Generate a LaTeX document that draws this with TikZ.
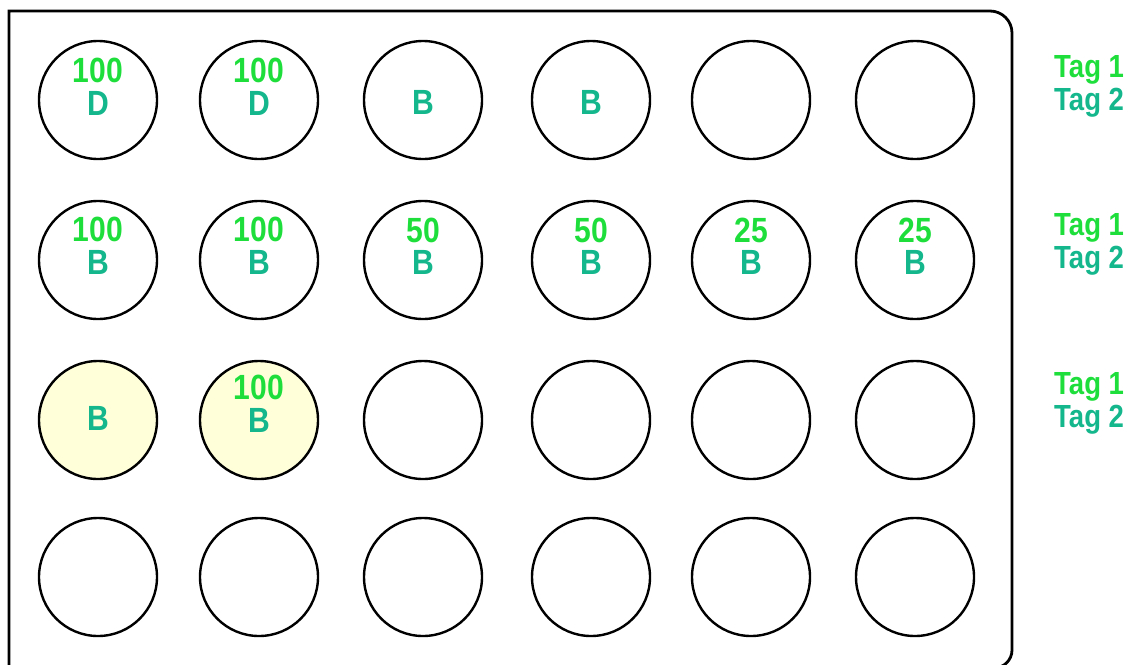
\documentclass[tikz,border=0pt]{standalone}
\usepackage{fontspec}
\setmainfont{Liberation Sans}
\begin{document}
\begin{tikzpicture}[x=1pt,y=-1pt,
  well/.style={circle,draw=black,line width=2.4pt,minimum size=118pt,inner sep=0pt},
  lit/.style={well,fill=wellyellow},
  numtxt/.style={text=taggreen,font=\fontsize{35}{35}\selectfont\bfseries,xscale=0.86,inner sep=0pt},
  lettxt/.style={text=tagteal,font=\fontsize{35}{35}\selectfont\bfseries,xscale=0.86,inner sep=0pt},
  tagone/.style={text=taggreen,font=\fontsize{32}{32}\selectfont\bfseries,xscale=0.86,inner sep=0pt,anchor=west},
  tagtwo/.style={text=tagteal,font=\fontsize{32}{32}\selectfont\bfseries,xscale=0.86,inner sep=0pt,anchor=west}]
\definecolor{taggreen}{RGB}{30,222,60}
\definecolor{tagteal}{RGB}{20,182,140}
\definecolor{wellyellow}{RGB}{255,255,218}
\useasboundingbox (0,0) rectangle (1142,664);
\clip (0,0) rectangle (1142,664);
% plate
\draw[line width=2.8pt] (9,690) -- (9,11) -- (990,11) arc[start angle=-90,end angle=0,radius=22] -- (1012,650) arc[start angle=0,end angle=90,radius=18] -- (985,668);
% wells
\foreach \r/\y in {1/100,2/260,3/420,4/577}{
  \foreach \c/\x in {1/98,2/259,3/423,4/591,5/751,6/915}{
    \ifnum\r=3 \ifnum\c<3
      \node[lit] (w\r\c) at (\x,\y) {};
    \else
      \node[well] (w\r\c) at (\x,\y) {};
    \fi\else
      \node[well] (w\r\c) at (\x,\y) {};
    \fi
  }
}
% labels row 1
\node[numtxt] (n11) at (98,70) {100};
\node[lettxt] (l11) at (98,103) {D};
\node[numtxt] (n12) at (259,70) {100};
\node[lettxt] (l12) at (259,103) {D};
\node[lettxt] (l13) at (423,102) {B};
\node[lettxt] (l14) at (591,102) {B};
% row 2
\node[numtxt] (n21) at (98,229) {100};
\node[lettxt] (l21) at (98,262) {B};
\node[numtxt] (n22) at (259,229) {100};
\node[lettxt] (l22) at (259,262) {B};
\node[numtxt] (n23) at (423,230) {50};
\node[lettxt] (l23) at (423,262) {B};
\node[numtxt] (n24) at (591,230) {50};
\node[lettxt] (l24) at (591,262) {B};
\node[numtxt] (n25) at (751,230) {25};
\node[lettxt] (l25) at (751,262) {B};
\node[numtxt] (n26) at (915,230) {25};
\node[lettxt] (l26) at (915,262) {B};
% row 3
\node[lettxt] (l31) at (98,418) {B};
\node[numtxt] (n32) at (259,387) {100};
\node[lettxt] (l32) at (259,420) {B};
% tags
\foreach \y/\k in {70/1,228/2,387/3}{
  \node[tagone] (ta\k) at (1054,\y) {Tag 1};
  \node[tagtwo] (tb\k) at (1054,\y+33) {Tag 2};
}
\end{tikzpicture}
\end{document}
